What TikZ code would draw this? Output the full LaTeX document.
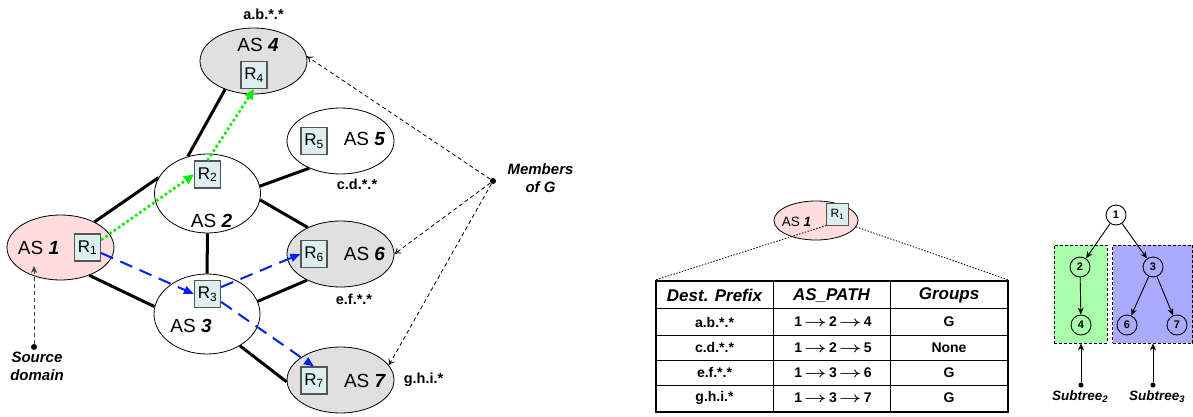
\documentclass[tikz,border=0pt]{standalone}
\usepackage{fontspec}
\usepackage{graphicx}
\setmainfont{Liberation Sans}
\usetikzlibrary{shapes.geometric,arrows.meta}
\definecolor{asgray}{HTML}{E0E0E0}
\definecolor{aspink}{HTML}{FFDDDD}
\definecolor{rfill}{HTML}{DDEEEE}
\definecolor{rborder}{HTML}{555555}
\definecolor{grnbox}{HTML}{AAFFAA}
\definecolor{bluebox}{HTML}{AAAAFF}
\definecolor{grnline}{HTML}{00EE00}
\definecolor{blueline}{HTML}{0022EE}
\newcommand{\patharr}{\,\scalebox{1.35}[1]{$\boldsymbol{\rightarrow}$}\,}
\usepackage{amsmath}
\begin{document}
\begin{tikzpicture}[x=1pt,y=-1pt,
  asell/.style={ellipse,draw=black,line width=0.8pt,inner sep=0,minimum width=107pt,minimum height=66pt},
  rbox/.style={rectangle,draw=rborder,fill=rfill,line width=1.2pt,inner sep=0,minimum width=26pt,minimum height=27pt,font=\fontsize{17}{17}\selectfont},
  astext/.style={font=\fontsize{19}{19}\selectfont,inner sep=0},
  pfx/.style={font=\bfseries\fontsize{14.5}{14.5}\selectfont,inner sep=0},
  note/.style={font=\bfseries\itshape\fontsize{15}{18.5}\selectfont,inner sep=0,align=center},
  link/.style={line width=3pt},
  grnarrow/.style={draw=grnline,line width=2.6pt,dash pattern=on 2.6pt off 2.6pt,-{Triangle[length=10pt,width=9pt,fill=grnline]}},
  bluearrow/.style={draw=blueline,line width=2pt,dash pattern=on 13pt off 8pt,-{Triangle[length=10pt,width=8pt,fill=blueline]}},
  memarrow/.style={line width=0.8pt,dash pattern=on 4pt off 3pt,-{To[length=6pt,width=7pt]}},
  dotmark/.style={circle,fill=black,inner sep=0,minimum size=6pt},
  tnode/.style={circle,draw,line width=0.9pt,minimum size=20pt,inner sep=0,font=\bfseries\fontsize{11}{11}\selectfont},
  tarrow/.style={line width=0.9pt,-{Stealth[length=7pt,width=6pt]}},
  hdr/.style={font=\bfseries\itshape\fontsize{17}{17}\selectfont,inner sep=0},
  cell/.style={font=\bfseries\fontsize{14}{14}\selectfont,inner sep=0},
  subt/.style={font=\bfseries\itshape\fontsize{13.5}{13.5}\selectfont,inner sep=0}
]
\useasboundingbox (0,0) rectangle (1193,417);

% ---------- left: AS graph ----------
\node[asell,fill=asgray] (as4) at (253.5,61) {};
\node[asell,fill=white] (as5) at (340.5,141) {};
\node[asell,fill=white,minimum width=106pt,minimum height=79pt] (as2) at (207.5,193.5) {};
\node[asell,fill=aspink,minimum height=65pt] (as1) at (60.5,247.5) {};
\node[asell,fill=white,minimum width=106pt,minimum height=80pt] (as3) at (207,314) {};
\node[asell,fill=asgray] (as6) at (340.5,254) {};
\node[asell,fill=asgray] (as7) at (340.5,380) {};

\node[astext] (t4) at (258,45) {AS \textbf{\itshape 4}};
\node[astext] (t5) at (364.5,139) {AS \textbf{\itshape 5}};
\node[astext] (t2) at (211.5,221) {AS \textbf{\itshape 2}};
\node[astext] (t1) at (38.5,248) {AS \textbf{\itshape 1}};
\node[astext] (t3) at (191,326) {AS \textbf{\itshape 3}};
\node[astext] (t6) at (364.5,254) {AS \textbf{\itshape 6}};
\node[astext] (t7) at (365,381) {AS \textbf{\itshape 7}};

\node[rbox] (r4) at (254,75) {R\textsubscript{4}};
\node[rbox] (r5) at (314,141) {R\textsubscript{5}};
\node[rbox] (r2) at (207.5,174.5) {R\textsubscript{2}};
\node[rbox] (r1) at (87.5,247.5) {R\textsubscript{1}};
\node[rbox] (r3) at (207.5,294) {R\textsubscript{3}};
\node[rbox] (r6) at (314,254) {R\textsubscript{6}};
\node[rbox] (r7) at (314,380.5) {R\textsubscript{7}};

\node[pfx] (pab) at (263.5,14) {a.b.*.*};
\node[pfx] (pcd) at (357,184) {c.d.*.*};
\node[pfx] (pef) at (354,299) {e.f.*.*};
\node[pfx] (pgh) at (423.5,380) {g.h.i.*};

% links
\draw[link] (as4.225.5) -- (as2.118);
\draw[link] (as2.8) -- (as5.221.5);
\draw[link] (as2.162) -- (as1.37.5);
\draw[link] (as2.353) -- (as6.141);
\draw[link] (as2.south) -- (as3.north);
\draw[link] (as1.316) -- (as3.172.5);
\draw[link] (as3.14) -- (as6.218);
\draw[link] (as3.316) -- (as7.182);

% routes
\draw[grnarrow] (r1.29) -- (r2.west);
\draw[grnarrow] (r2.north) -- (r4.south);
\draw[bluearrow] (r1.-22) -- (r3.west);
\draw[bluearrow] (r3.27) -- (r6.west);
\draw[bluearrow] (r3.-30) -- (r7.north);

% members of G
\node[dotmark] (mg) at (493,181) {};
\node[note,anchor=center] (mgt) at (540.5,178) {Members\\of G};
\draw[memarrow] (mg) -- (as4.5);
\draw[memarrow] (mg) -- (as6.east);
\draw[memarrow] (mg) -- (as7.17);

% source domain
\node[dotmark] (src) at (34,347) {};
\coordinate (srctip) at (34,266);
\draw[line width=0.9pt,draw=black!75,dash pattern=on 4pt off 3pt,-{Stealth[length=7pt,width=6pt]}] (src) -- (srctip);
\node[note] (srct) at (37,366.5) {Source\\domain};

% ---------- middle: routing table ----------
\node[ellipse,draw=black,line width=0.8pt,fill=aspink,inner sep=0,minimum width=84pt,minimum height=39pt] (as1s) at (816,220.5) {};
\node[font=\fontsize{13.5}{13.5}\selectfont,inner sep=0] (t1s) at (796.5,222) {AS \textbf{\itshape 1}};
\node[rectangle,draw=rborder,fill=rfill,line width=1pt,inner sep=0,minimum width=21.5pt,minimum height=22pt,font=\fontsize{12}{12}\selectfont] (r1s) at (837.5,214) {R\textsubscript{1}};

\node[draw,line width=1.8pt,minimum width=352pt,minimum height=131pt,inner sep=0] (tbl) at (832,346.5) {};
\draw[line width=0.9pt] (656,308) -- (1008,308);
\draw[line width=0.9pt] (656,335) -- (1008,335);
\draw[line width=0.9pt] (656,360) -- (1008,360);
\draw[line width=0.9pt] (656,385) -- (1008,385);
\draw[line width=0.9pt] (773,281) -- (773,412);
\draw[line width=0.9pt] (890,281) -- (890,412);

\draw[line width=0.8pt,dash pattern=on 1.5pt off 1.5pt] (r1s.south west) -- (tbl.north west);
\draw[line width=0.8pt,dash pattern=on 1.5pt off 1.5pt] (as1s.-9) -- (tbl.north east);

\node[hdr] (h1) at (714.5,295.5) {Dest. Prefix};
\node[hdr] (h2) at (831.5,295.5) {AS\_PATH};
\node[hdr] (h3) at (949,295.5) {Groups};

\node[cell] (c11) at (714.5,322) {a.b.*.*};
\node[cell] (c12) at (833,322) {1\patharr 2\patharr 4};
\node[cell] (c13) at (949,322) {G};
\node[cell] (c21) at (714.5,347.5) {c.d.*.*};
\node[cell] (c22) at (833,347.5) {1\patharr 2\patharr 5};
\node[cell] (c23) at (949,347.5) {None};
\node[cell] (c31) at (714.5,372.5) {e.f.*.*};
\node[cell] (c32) at (833,372.5) {1\patharr 3\patharr 6};
\node[cell] (c33) at (949,372.5) {G};
\node[cell] (c41) at (714.5,398) {g.h.i.*};
\node[cell] (c42) at (833,398) {1\patharr 3\patharr 7};
\node[cell] (c43) at (949,398) {G};

% ---------- right: tree ----------
\node[draw,fill=grnbox,line width=0.9pt,dash pattern=on 3pt off 2pt,minimum width=53pt,minimum height=98pt,inner sep=0] (gbox) at (1080.5,294) {};
\node[draw,fill=bluebox,line width=0.9pt,dash pattern=on 3pt off 2pt,minimum width=80pt,minimum height=98pt,inner sep=0] (bbox) at (1152.5,294) {};

\node[tnode,fill=white] (n1) at (1116,215) {1};
\node[tnode] (n2) at (1080,267) {2};
\node[tnode] (n4) at (1081,325) {4};
\node[tnode] (n3) at (1153,267) {3};
\node[tnode] (n6) at (1127,325) {6};
\node[tnode] (n7) at (1177,325) {7};
\draw[tarrow] (n1) -- (n2);
\draw[tarrow] (n1) -- (n3);
\draw[tarrow] (n2) -- (n4);
\draw[tarrow] (n3) -- (n6);
\draw[tarrow] (n3) -- (n7);

\node[dotmark,minimum size=5pt] (s2) at (1081,385) {};
\node[dotmark,minimum size=5pt] (s3) at (1153,385) {};
\draw[tarrow] (s2) -- (s2 |- gbox.south);
\draw[tarrow] (s3) -- (s3 |- bbox.south);
\node[subt] (s2t) at (1080,397) {Subtree\textsubscript{2}};
\node[subt] (s3t) at (1157,397) {Subtree\textsubscript{3}};
\end{tikzpicture}
\end{document}
